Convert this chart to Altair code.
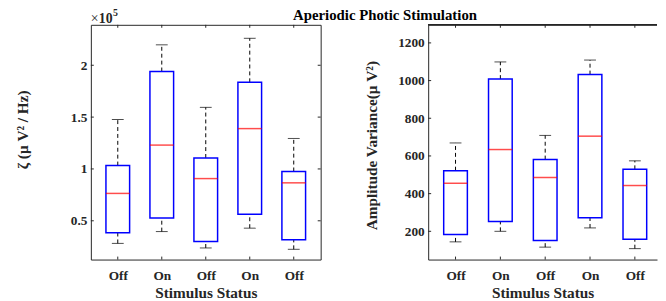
import json
import altair as alt
import pandas as pd

# ---------------- data ----------------
positions = [1, 2, 3, 4, 5]
status_labels = ["Off", "On", "Off", "On", "Off"]

# left panel: zeta (muV^2/Hz), raw values (axis shows x 10^5)
zeta_lo = [28200, 39600, 23800, 42900, 22500]
zeta_q1 = [38400, 52700, 30100, 56400, 31700]
zeta_med = [76400, 123000, 90700, 138900, 86600]
zeta_q3 = [103300, 194000, 110600, 183600, 97600]
zeta_hi = [147700, 219700, 159400, 226000, 129400]
zeta_ticks = [50000, 100000, 150000, 200000]

# right panel: amplitude variance (muV^2)
var_lo = [144, 200, 116, 218, 108]
var_q1 = [183, 252, 151, 272, 158]
var_med = [455, 634, 485, 705, 443]
var_q3 = [522, 1008, 581, 1032, 529]
var_hi = [669, 1099, 709, 1109, 574]
var_ticks = [200, 400, 600, 800, 1000, 1200]

FR = "#262626"
FONT = "Liberation Serif"
label_expr = json.dumps(status_labels) + "[datum.value - 1]"


def make_df(lo, q1, med, q3, hi):
    return pd.DataFrame({"pos": positions, "label": status_labels, "lo": lo,
                         "q1": q1, "med": med, "q3": q3, "hi": hi})


def panel(df, ydom, yticks, ytitle, width, height, xmax, ylabel_expr,
          title_pad, full_frame, title_y=None, exponent=False, main_title=None):
    xs = alt.Scale(domain=[0.5, xmax], nice=False, zero=False)
    ys = alt.Scale(domain=ydom, nice=False, zero=False)
    xaxis = alt.Axis(values=positions, labelExpr=label_expr, title="Stimulus Status",
                     ticks=False, grid=False, domain=not full_frame,
                     domainColor=FR, labelPadding=9, titlePadding=4)
    yargs = dict(values=yticks, title=ytitle, ticks=False, grid=False,
                 domain=not full_frame, domainColor=FR, labelPadding=4,
                 titlePadding=title_pad)
    if ylabel_expr:
        yargs["labelExpr"] = ylabel_expr
    else:
        yargs["format"] = "d"
    if title_y is not None:
        yargs["titleY"] = title_y
    yaxis = alt.Axis(**yargs)

    X = alt.X("pos:Q", scale=xs, axis=xaxis)

    def Y(f):
        return alt.Y(f, type="quantitative", scale=ys, axis=yaxis)

    base = alt.Chart(df)
    w_up = base.mark_rule(color="black", strokeDash=[4, 3], strokeWidth=1).encode(
        x=X, y=Y("q3"), y2="hi")
    w_lo = base.mark_rule(color="black", strokeDash=[4, 3], strokeWidth=1).encode(
        x=X, y=Y("lo"), y2="q1")
    cap_hi = base.mark_tick(orient="horizontal", size=12, thickness=1,
                            color="black").encode(x=X, y=Y("hi"))
    cap_lo = base.mark_tick(orient="horizontal", size=12, thickness=1,
                            color="black").encode(x=X, y=Y("lo"))
    box = base.mark_bar(size=24, fill="white", stroke="#0000FF",
                        strokeWidth=1.5).encode(x=X, y=Y("q1"), y2="q3")
    med = base.mark_tick(orient="horizontal", size=24, thickness=1.5,
                         color="#FF0000").encode(x=X, y=Y("med"))

    ydf = pd.DataFrame({"v": yticks})
    xdf = pd.DataFrame({"pos": positions})
    tl = alt.Chart(ydf).mark_rule(color=FR).encode(
        y=Y("v"), x=alt.value(0), x2=alt.value(3))
    tb = alt.Chart(xdf).mark_rule(color=FR).encode(
        x=X, y=alt.value(height - 3), y2=alt.value(height))
    tt = alt.Chart(xdf).mark_rule(color=FR).encode(
        x=X, y=alt.value(0), y2=alt.value(3))
    layers = [w_up, w_lo, cap_hi, cap_lo, box, med, tl, tb, tt]
    if full_frame:
        tr = alt.Chart(ydf).mark_rule(color=FR).encode(
            y=Y("v"), x=alt.value(width - 3), x2=alt.value(width))
        layers.append(tr)
    else:
        top = alt.Chart(xdf).mark_rule(color=FR).encode(
            x=alt.value(0), x2=alt.value(width), y=alt.value(0))
        layers.append(top)
    one = pd.DataFrame({"k": [0]})
    if exponent:
        t1 = alt.Chart(one).mark_text(
            align="left", baseline="alphabetic", font=FONT, fontWeight="normal",
            fontSize=14, color=FR).encode(
            x=alt.value(0), y=alt.value(-2), text=alt.value("×"))
        t2 = alt.Chart(one).mark_text(
            align="left", baseline="alphabetic", font=FONT, fontWeight="bold",
            fontSize=14, color=FR).encode(
            x=alt.value(8), y=alt.value(-2), text=alt.value("10"))
        t3 = alt.Chart(one).mark_text(
            align="left", baseline="alphabetic", font=FONT, fontWeight="bold",
            fontSize=10, color=FR).encode(
            x=alt.value(22.5), y=alt.value(-8.5), text=alt.value("5"))
        layers += [t1, t2, t3]
    if main_title:
        ttl = alt.Chart(one).mark_text(
            align="left", baseline="alphabetic", font=FONT, fontWeight="bold",
            fontSize=15, color="black").encode(
            x=alt.value(-137), y=alt.value(-5), text=alt.value(main_title))
        layers.append(ttl)
    ch = alt.layer(*layers).properties(width=width, height=height)
    if full_frame:
        ch = ch.properties(view=alt.ViewBackground(stroke=FR, strokeWidth=1))
    return ch


left = panel(make_df(zeta_lo, zeta_q1, zeta_med, zeta_q3, zeta_hi),
             [12600, 239000], zeta_ticks, "ζ (μ V² / Hz)", 233, 238, 5.5,
             "datum.value / 100000", 40, True, title_y=106, exponent=True)
right = panel(make_df(var_lo, var_q1, var_med, var_q3, var_hi),
              [50, 1296], var_ticks, "Amplitude Variance(μ V²)", 232, 238,
              0.5 + 232 / 47.5, None, 18, False, title_y=122,
              main_title="Aperiodic Photic Stimulation")

chart = alt.hconcat(left, right, spacing=109, bounds="flush").properties(
    padding={"left": 7, "top": -3, "right": 0, "bottom": 0},
    background="white",
).configure_view(stroke="transparent").configure_axis(
    labelFont=FONT, labelFontSize=13.5, labelFontWeight="bold", labelColor=FR,
    titleFont=FONT, titleFontSize=15.5, titleFontWeight="bold", titleColor=FR,
)

chart.save("out.html", embed_options={"renderer": "svg", "actions": False})
